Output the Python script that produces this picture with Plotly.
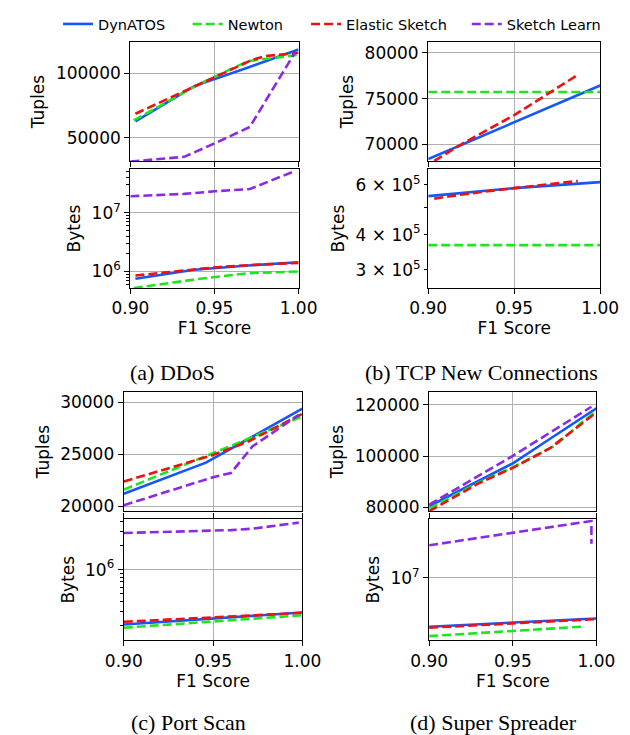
import plotly.graph_objects as go
import math

# ---------------- data ----------------
series_names = ["DynATOS", "Newton", "Elastic Sketch", "Sketch Learn"]
series_colors = ["#1457ff", "#1ee61e", "#ee1111", "#8a2be2"]
x_tick_vals = [0.90, 0.95, 1.00]
x_tick_text = ["0.90", "0.95", "1.00"]
captions = ["(a) DDoS", "(b) TCP New Connections", "(c) Port Scan", "(d) Super Spreader"]

# (a) DDoS
ddos_dyn_f1 = [0.903, 0.938, 0.97, 1.0]
ddos_dyn_tuples = [62500, 90000, 104500, 118500]
ddos_dyn_bytes = [7.5e5, 1.07e6, 1.26e6, 1.43e6]
ddos_newton_f1 = [0.902, 0.94, 0.97, 0.985, 1.0]
ddos_newton_tuples = [63300, 91000, 109500, 112000, 114400]
ddos_newton_bytes = [5.2e5, 7.4e5, 9.3e5, 9.7e5, 1.0e6]
ddos_elastic_f1 = [0.903, 0.95, 0.972, 0.98, 1.0]
ddos_elastic_tuples = [68500, 96700, 110200, 113300, 116000]
ddos_elastic_bytes = [8.5e5, 1.17e6, 1.29e6, 1.33e6, 1.40e6]
ddos_learn_f1 = [0.90, 0.932, 0.95, 0.971, 0.998]
ddos_learn_tuples = [31300, 35000, 45400, 58200, 116500]
ddos_learn_bytes = [1.91e7, 2.1e7, 2.32e7, 2.54e7, 5.16e7]

# (b) TCP New Connections
tcp_dyn_f1 = [0.90, 0.95, 1.0]
tcp_dyn_tuples = [68400, 72450, 76440]
tcp_dyn_bytes = [5.47e5, 5.84e5, 6.13e5]
tcp_newton_f1 = [0.90, 0.95, 1.0]
tcp_newton_tuples = [75730, 75730, 75730]
tcp_newton_bytes = [3.67e5, 3.67e5, 3.67e5]
tcp_elastic_f1 = [0.9035, 0.92, 0.95, 0.987]
tcp_elastic_tuples = [68200, 70100, 73200, 77600]
tcp_elastic_bytes = [5.36e5, 5.55e5, 5.84e5, 6.19e5]

# (c) Port Scan
port_dyn_f1 = [0.90, 0.946, 0.97, 1.0]
port_dyn_tuples = [21210, 24200, 26500, 29400]
port_dyn_bytes = [2.05e5, 2.41e5, 2.6e5, 2.9e5]
port_newton_f1 = [0.90, 0.95, 0.97, 1.0]
port_newton_tuples = [21600, 25090, 26520, 28670]
port_newton_bytes = [1.87e5, 2.22e5, 2.4e5, 2.68e5]
port_elastic_f1 = [0.90, 0.95, 0.97, 1.0]
port_elastic_tuples = [22380, 24930, 26260, 28900]
port_elastic_bytes = [2.22e5, 2.49e5, 2.65e5, 2.88e5]
port_learn_f1 = [0.90, 0.95, 0.96, 0.972, 0.998]
port_learn_tuples = [20100, 22800, 23200, 25750, 28800]
port_learn_bytes = [2.87e6, 3.05e6, 3.12e6, 3.25e6, 3.87e6]

# (d) Super Spreader
super_dyn_f1 = [0.90, 0.929, 0.95, 0.97, 1.0]
super_dyn_tuples = [80400, 90060, 97160, 105800, 118700]
super_dyn_bytes = [2.44e6, 2.62e6, 2.75e6, 2.88e6, 3.1e6]
super_newton_f1 = [0.90, 0.93, 0.95, 0.975, 0.991, 1.0]
super_newton_tuples = [79500, 89800, 95600, 104000, 113000, 117600]
super_newton_bytes = [1.86e6, 2.04e6, 2.16e6, 2.33e6, 2.44e6, None]
super_elastic_f1 = [0.90, 0.93, 0.95, 0.972, 1.0]
super_elastic_tuples = [78450, 89500, 95400, 103000, 117100]
super_elastic_bytes = [2.37e6, 2.56e6, 2.69e6, 2.84e6, 3.04e6]
super_learn_f1 = [0.90, 0.95, 0.997, 0.997]
super_learn_tuples = [81000, 100100, 119300, None]
super_learn_bytes = [2.56e7, 3.65e7, 5.16e7, 2.68e7]

panels = [
    [(ddos_dyn_f1, ddos_dyn_tuples, ddos_dyn_bytes),
     (ddos_newton_f1, ddos_newton_tuples, ddos_newton_bytes),
     (ddos_elastic_f1, ddos_elastic_tuples, ddos_elastic_bytes),
     (ddos_learn_f1, ddos_learn_tuples, ddos_learn_bytes)],
    [(tcp_dyn_f1, tcp_dyn_tuples, tcp_dyn_bytes),
     (tcp_newton_f1, tcp_newton_tuples, tcp_newton_bytes),
     (tcp_elastic_f1, tcp_elastic_tuples, tcp_elastic_bytes),
     None],
    [(port_dyn_f1, port_dyn_tuples, port_dyn_bytes),
     (port_newton_f1, port_newton_tuples, port_newton_bytes),
     (port_elastic_f1, port_elastic_tuples, port_elastic_bytes),
     (port_learn_f1, port_learn_tuples, port_learn_bytes)],
    [(super_dyn_f1, super_dyn_tuples, super_dyn_bytes),
     (super_newton_f1, super_newton_tuples, super_newton_bytes),
     (super_elastic_f1, super_elastic_tuples, super_elastic_bytes),
     (super_learn_f1, super_learn_tuples, super_learn_bytes)],
]

# y axis ticks
tuples_ticks = [
    [50000, 100000],
    [70000, 75000, 80000],
    [20000, 25000, 30000],
    [80000, 100000, 120000],
]
tuples_ranges = [[31500, 124600], [68160, 81220], [19500, 31020], [78340, 125150]]
bytes_ranges = [[5.23e5, 5.52e7], [2.59e5, 6.81e5], [1.31e5, 4.25e6], [1.66e6, 5.40e7]]
bytes_major = [[1e6, 1e7], [3e5, 4e5, 6e5], [1e6], [1e7]]
bytes_major_text = [["10<sup>6</sup>", "10<sup>7</sup>"],
                    ["3 × 10<sup>5</sup>", "4 × 10<sup>5</sup>", "6 × 10<sup>5</sup>"],
                    ["10<sup>6</sup>"], ["10<sup>7</sup>"]]
bytes_minor = [
    [6e5, 7e5, 8e5, 9e5, 2e6, 3e6, 4e6, 5e6, 6e6, 7e6, 8e6, 9e6, 2e7, 3e7, 4e7, 5e7],
    [5e5],
    [2e5, 3e5, 4e5, 5e5, 6e5, 7e5, 8e5, 9e5, 2e6, 3e6, 4e6],
    [],
]

# ---------------- layout geometry (pixels) ----------------
W, H = 630, 735
panel_x = [(110, 289), (427, 610), (103, 293), (428, 606)]
panel_top_y = [(32, 153), (32, 153), (386, 507), (386, 507)]
panel_bot_y = [(161, 281), (161, 281), (515, 637), (515, 637)]
caption_pos = [(155, 366), (484, 366), (172, 720), (496, 720)]
legend_x = [33, 171, 297, 468]

def fx(p):
    return p / W

def fy(p):
    return 1 - p / H

FONT = "DejaVu Sans"
dashes = [None, "9px,4px", "9px,4px", "9px,4px"]
legend_ids = ["legend", "legend2", "legend3", "legend4"]

fig = go.Figure()
layout = {}

axis_common = dict(
    showline=True, linecolor="black", linewidth=1.3, mirror=True,
    ticks="outside", ticklen=5, tickwidth=1.2, tickcolor="black",
    gridcolor="#b0b0b0", gridwidth=1, zeroline=False,
    tickfont=dict(family=FONT, size=17, color="black"),
)

for p in range(4):
    ti = 2 * p + 1
    bi = 2 * p + 2
    xl, xr = panel_x[p]
    layout[f"xaxis{ti}"] = dict(
        axis_common, domain=[fx(xl), fx(xr)], anchor=f"y{ti}", range=[0.90, 1.00],
        tickmode="array", tickvals=x_tick_vals, showticklabels=False, showgrid=True)
    layout[f"yaxis{ti}"] = dict(
        axis_common, domain=[fy(panel_top_y[p][1]), fy(panel_top_y[p][0])], anchor=f"x{ti}",
        range=tuples_ranges[p], tickvals=tuples_ticks[p], ticktext=[str(v) for v in tuples_ticks[p]],
        title=dict(text="Tuples", font=dict(family=FONT, size=17, color="black"), standoff=6))
    layout[f"xaxis{bi}"] = dict(
        axis_common, domain=[fx(xl), fx(xr)], anchor=f"y{bi}", range=[0.90, 1.00],
        tickvals=x_tick_vals, ticktext=x_tick_text, showgrid=True,
        title=dict(text="F1 Score", font=dict(family=FONT, size=17, color="black"), standoff=4))
    yb = dict(
        axis_common, domain=[fy(panel_bot_y[p][1]), fy(panel_bot_y[p][0])], anchor=f"x{bi}",
        type="log", range=[math.log10(bytes_ranges[p][0]), math.log10(bytes_ranges[p][1])],
        tickmode="array", tickvals=bytes_major[p], ticktext=bytes_major_text[p],
        title=dict(text="Bytes", font=dict(family=FONT, size=17, color="black"), standoff=6))
    if p == 1:
        yb["showgrid"] = False
        yb["ticklen"] = 3
    if bytes_minor[p]:
        yb["minor"] = dict(tickmode="array", tickvals=bytes_minor[p], ticks="outside",
                           ticklen=3, tickwidth=1, tickcolor="black", showgrid=False)
    layout[f"yaxis{bi}"] = yb

    for s in range(4):
        d = panels[p][s]
        if d is None:
            continue
        f1, tup, byt = d
        line = dict(color=series_colors[s], width=2.6)
        if dashes[s]:
            line["dash"] = dashes[s]
        fig.add_trace(go.Scatter(
            x=f1, y=tup, mode="lines", line=line, name=series_names[s],
            legendgroup=series_names[s], showlegend=(p == 0), legend=legend_ids[s],
            xaxis=f"x{ti}" if ti > 1 else "x", yaxis=f"y{ti}" if ti > 1 else "y"))
        fig.add_trace(go.Scatter(
            x=f1, y=byt, mode="lines", line=line, name=series_names[s],
            legendgroup=series_names[s], showlegend=False, legend=legend_ids[s],
            xaxis=f"x{bi}", yaxis=f"y{bi}"))

layout["xaxis"] = layout.pop("xaxis1")
layout["yaxis"] = layout.pop("yaxis1")

for s in range(4):
    layout[legend_ids[s]] = dict(
        orientation="h", x=fx(legend_x[s]), y=fy(14), xanchor="left", yanchor="middle",
        font=dict(family=FONT, size=14.5, color="black"),
        bgcolor="rgba(0,0,0,0)", itemwidth=30, borderwidth=0)

annotations = []
for p in range(4):
    cx, cy = caption_pos[p]
    annotations.append(dict(
        text=captions[p], x=fx(cx), y=fy(cy), xref="paper", yref="paper",
        xanchor="center", yanchor="middle", showarrow=False,
        font=dict(family="Liberation Serif", size=22, color="black")))

fig.update_layout(
    width=W, height=H,
    margin=dict(l=0, r=0, t=0, b=0),
    paper_bgcolor="white", plot_bgcolor="white",
    font=dict(family=FONT, color="black"),
    showlegend=True,
    annotations=annotations,
    **layout,
)

fig.write_html("out.html")
